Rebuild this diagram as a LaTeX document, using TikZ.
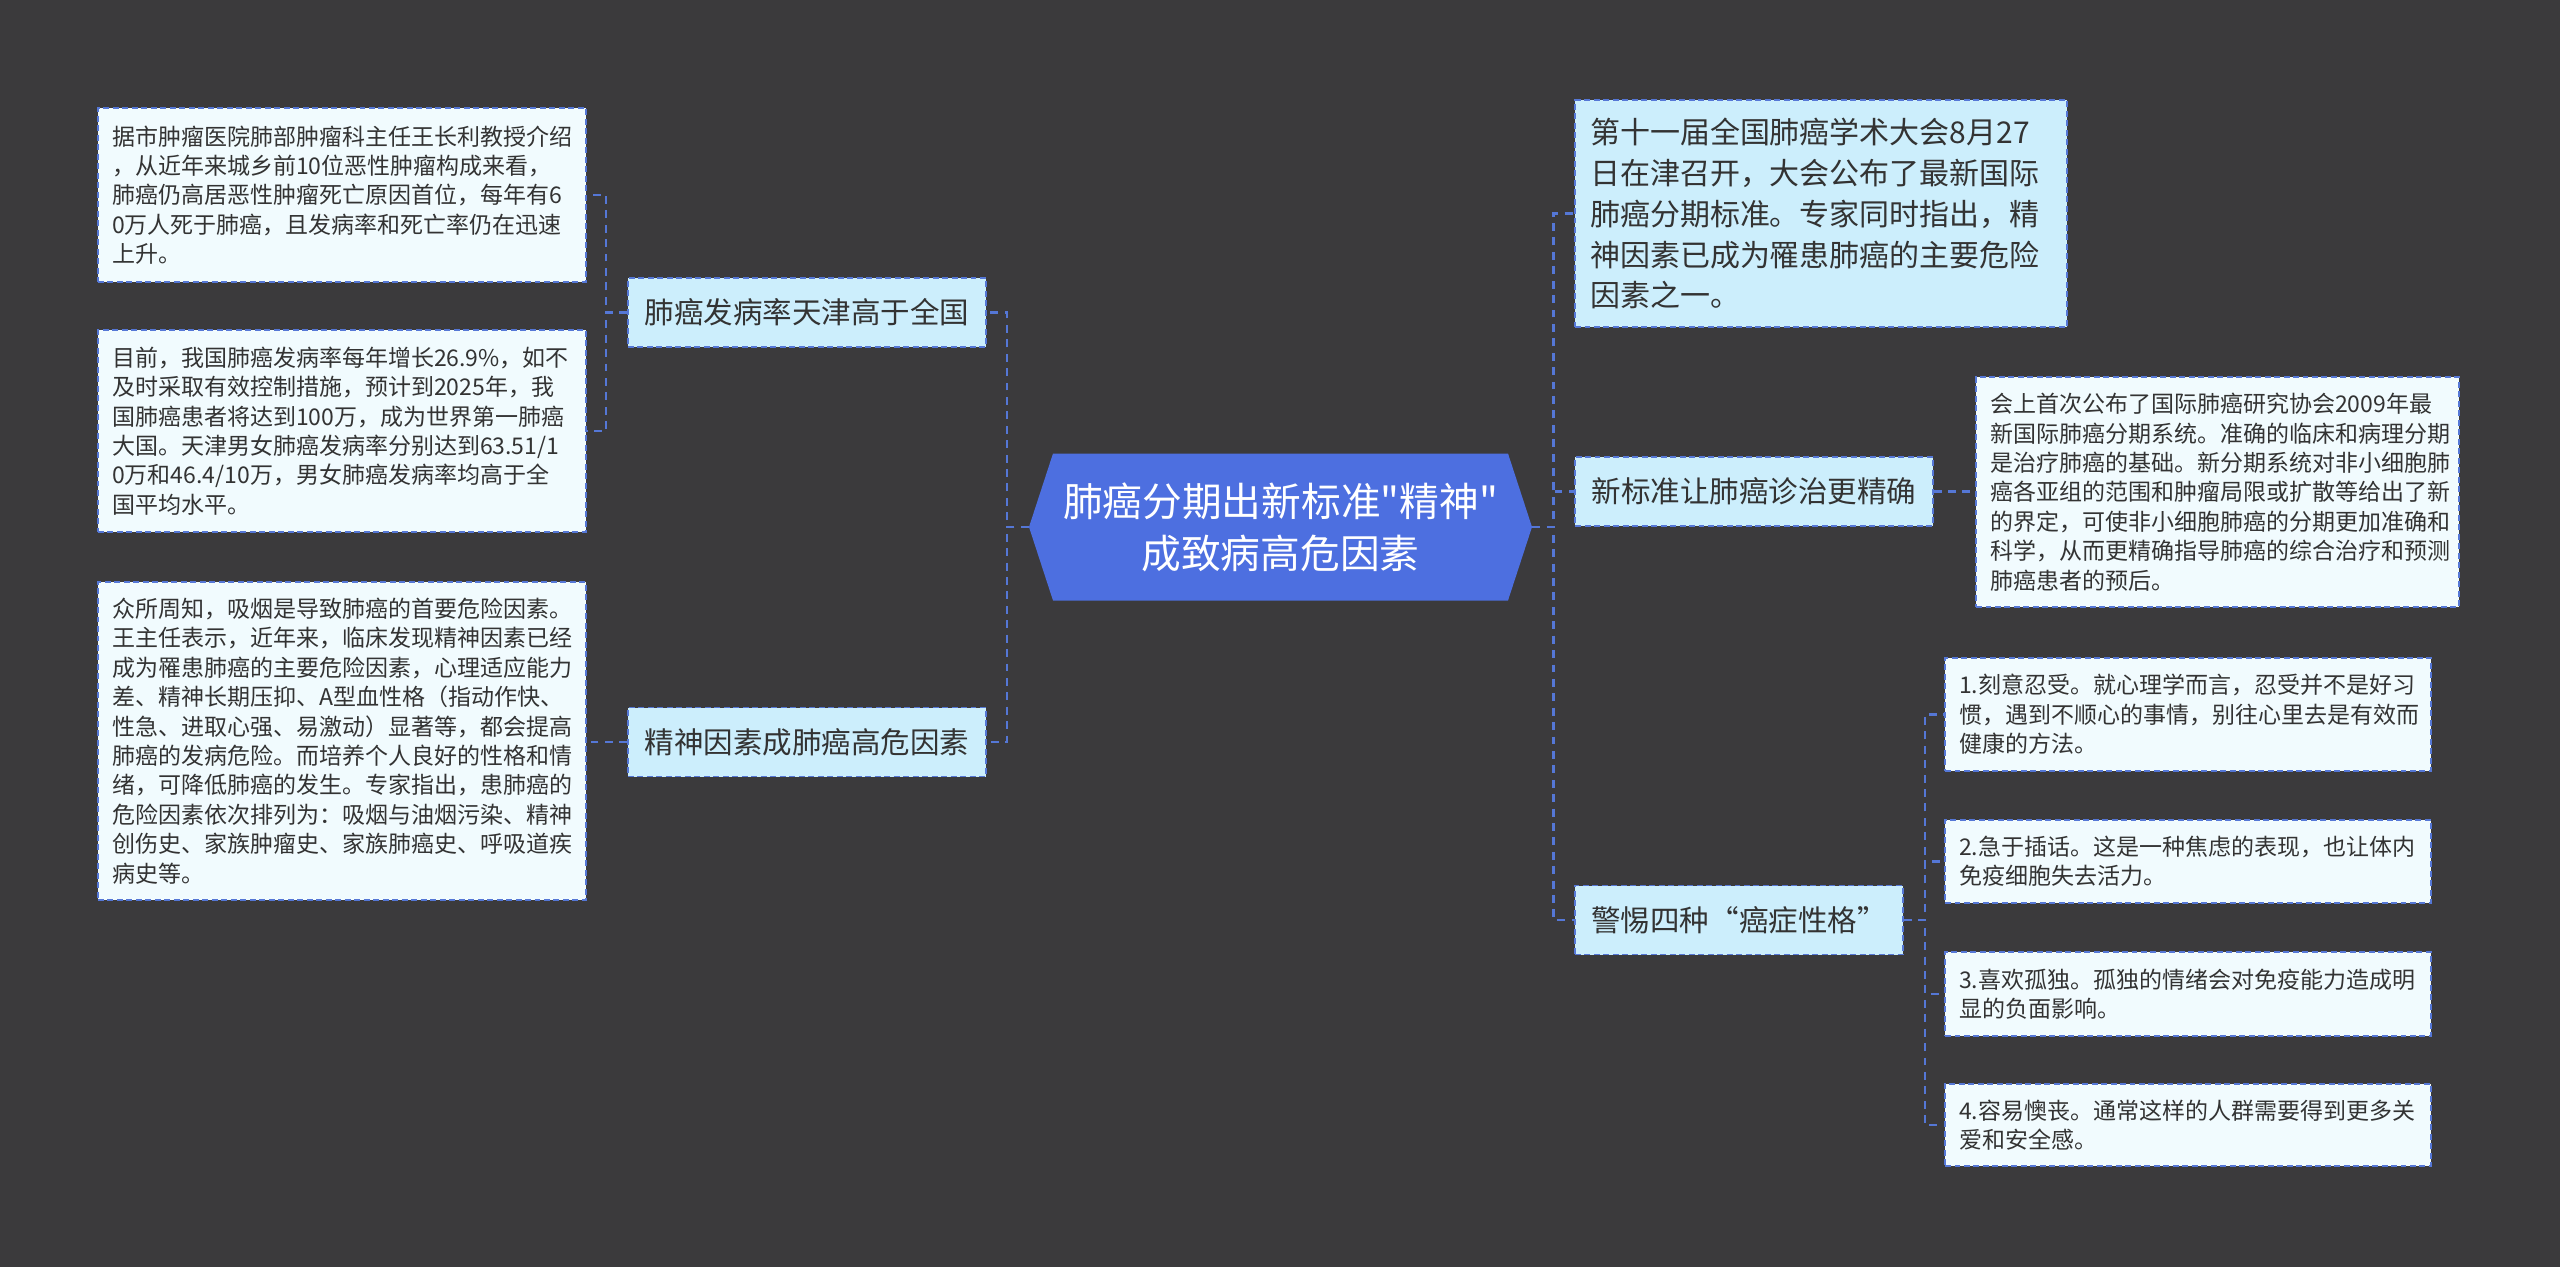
\documentclass[tikz,border=0pt]{standalone}
\usepackage{fontspec}
\setmainfont{Noto Sans CJK SC}[Ligatures=TeXOff]

\definecolor{bgdark}{HTML}{3B3A3C}
\definecolor{rootblue}{HTML}{4D6FE0}
\definecolor{branchfill}{HTML}{CCEEFC}
\definecolor{leaffill}{HTML}{F1FBFE}
\definecolor{edgeblue}{HTML}{5577D6}
\definecolor{inkgray}{HTML}{333333}

\begin{document}
\begin{tikzpicture}[
        root/.style={text=white, align=center, minimum width=10.06cm, minimum height=2.94cm,
            font=\fontsize{22.6pt}{29.6pt}\selectfont},
        box/.style={draw=edgeblue, line width=0.8pt, dash pattern=on 3.4pt off 2pt, text=inkgray},
        branch/.style={box, fill=branchfill, inner xsep=0.33cm, minimum height=1.38cm,
            font=\fontsize{16.8pt}{20pt}\selectfont},
        bigbox/.style={box, fill=branchfill, align=left, text width=9.24cm, inner xsep=0.3cm,
            font=\fontsize{17.07pt}{23.3pt}\selectfont},
        leaf/.style={box, fill=leaffill, align=left, text width=9.2cm, inner xsep=0.28cm,
            font=\fontsize{13.09pt}{16.73pt}\selectfont},
        link/.style={edgeblue, line width=1.3pt, dash pattern=on 4.5pt off 3.7pt}
    ]
        % Canvas
        \useasboundingbox (0,0) rectangle (51.2,-25.34);
        \fill[bgdark] (0,0) rectangle (51.2,-25.34);

        % Centre topic
        \fill[rootblue] (20.58,-10.54) -- ++(0.48,1.47) -- ++(9.1,0) -- ++(0.48,-1.47)
            -- ++(-0.48,-1.47) -- ++(-9.1,0) -- cycle;
        \node[root] (root) at (25.61,-10.54) {肺癌分期出新标准"精神"\\成致病高危因素};

        % Left side
        \node[branch, minimum width=7.16cm] (incidence) at (16.14,-6.25) {肺癌发病率天津高于全国};
        \node[branch, minimum width=7.16cm] (mental) at (16.14,-14.84) {精神因素成肺癌高危因素};

        \node[leaf, minimum height=3.48cm] (director) at (6.84,-3.9)
            {据市肿瘤医院肺部肿瘤科主任王长利教授介绍\\，从近年来城乡前10位恶性肿瘤构成来看，\\肺癌仍高居恶性肿瘤死亡原因首位，每年有6\\0万人死于肺癌，且发病率和死亡率仍在迅速\\上升。};
        \node[leaf, minimum height=4.04cm] (growth) at (6.84,-8.62)
            {目前，我国肺癌发病率每年增长26.9\%，如不\\及时采取有效控制措施，预计到2025年，我\\国肺癌患者将达到100万，成为世界第一肺癌\\大国。天津男女肺癌发病率分别达到63.51/1\\0万和46.4/10万，男女肺癌发病率均高于全\\国平均水平。};
        \node[leaf, minimum height=6.36cm] (smoking) at (6.84,-14.82)
            {众所周知，吸烟是导致肺癌的首要危险因素。\\王主任表示，近年来，临床发现精神因素已经\\成为罹患肺癌的主要危险因素，心理适应能力\\差、精神长期压抑、A型血性格（指动作快、\\性急、进取心强、易激动）显著等，都会提高\\肺癌的发病危险。而培养个人良好的性格和情\\绪，可降低肺癌的发生。专家指出，患肺癌的\\危险因素依次排列为：吸烟与油烟污染、精神\\创伤史、家族肿瘤史、家族肺癌史、呼吸道疾\\病史等。};

        % Right side
        \node[bigbox, minimum height=4.54cm] (congress) at (36.42,-4.27)
            {第十一届全国肺癌学术大会8月27\\日在津召开，大会公布了最新国际\\肺癌分期标准。专家同时指出，精\\神因素已成为罹患肺癌的主要危险\\因素之一。};
        \node[branch, minimum width=7.12cm] (standard) at (35.08,-9.83) {新标准让肺癌诊治更精确};
        \node[branch, minimum width=6.52cm] (character) at (34.78,-18.4) {警惕四种“癌症性格”};

        \node[leaf, text width=9.1cm, minimum height=4.6cm] (system) at (44.35,-9.84)
            {会上首次公布了国际肺癌研究协会2009年最\\新国际肺癌分期系统。准确的临床和病理分期\\是治疗肺癌的基础。新分期系统对非小细胞肺\\癌各亚组的范围和肿瘤局限或扩散等给出了新\\的界定，可使非小细胞肺癌的分期更加准确和\\科学，从而更精确指导肺癌的综合治疗和预测\\肺癌患者的预后。};
        \node[leaf, text width=9.16cm, minimum height=2.26cm] (endure) at (43.76,-14.29)
            {1.刻意忍受。就心理学而言，忍受并不是好习\\惯，遇到不顺心的事情，别往心里去是有效而\\健康的方法。};
        \node[leaf, text width=9.16cm, minimum height=1.66cm] (interrupt) at (43.76,-17.23)
            {2.急于插话。这是一种焦虑的表现，也让体内\\免疫细胞失去活力。};
        \node[leaf, text width=9.16cm, minimum height=1.68cm] (lonely) at (43.76,-19.88)
            {3.喜欢孤独。孤独的情绪会对免疫能力造成明\\显的负面影响。};
        \node[leaf, text width=9.16cm, minimum height=1.64cm] (dejected) at (43.76,-22.5)
            {4.容易懊丧。通常这样的人群需要得到更多关\\爱和安全感。};

        % Connectors
        \draw[link] (root.west) -- ++(-0.44,0) |- (incidence.east);
        \draw[link] (root.west) -- ++(-0.44,0) |- (mental.east);
        \draw[link] (incidence.west) -- ++(-0.42,0) |- (director.east);
        \draw[link] (incidence.west) -- ++(-0.42,0) |- (growth.east);
        \draw[link] (mental.west) -- (mental.west -| smoking.east);

        \draw[link] (root.east) -- ++(0.42,0) |- (congress.west);
        \draw[link] (root.east) -- ++(0.42,0) |- (standard.west);
        \draw[link] (root.east) -- ++(0.42,0) |- (character.west);
        \draw[link] (standard.east) -- (standard.east -| system.west);
        \foreach \q in {endure, interrupt, lonely, dejected}
            \draw[link] (character.east) -- ++(0.42,0) |- (\q.west);
    \end{tikzpicture}
\end{document}
